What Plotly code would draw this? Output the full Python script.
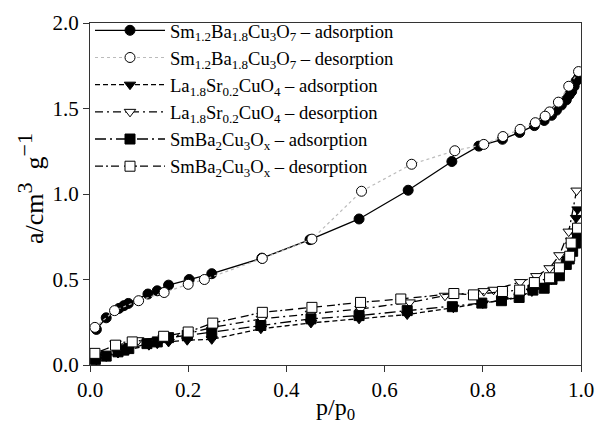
import plotly.graph_objects as go

# Sm1.2Ba1.8Cu3O7
sm12_ads_x = [0.013, 0.033, 0.059, 0.069, 0.078, 0.118, 0.137, 0.16, 0.202, 0.248, 0.35, 0.448, 0.548, 0.648, 0.737, 0.792,
              0.84, 0.875, 0.905, 0.925, 0.94, 0.95, 0.96, 0.97, 0.976, 0.981, 0.986, 0.99, 0.995]
sm12_ads_y = [0.208, 0.276, 0.331, 0.347, 0.36, 0.415, 0.434, 0.467, 0.5, 0.534, 0.625, 0.733, 0.854, 1.022, 1.19, 1.28,
              1.32, 1.36, 1.40, 1.43, 1.46, 1.49, 1.52, 1.55, 1.58, 1.60, 1.63, 1.66, 1.68]
sm12_des_x = [0.995, 0.975, 0.954, 0.936, 0.927, 0.907, 0.876, 0.841, 0.802, 0.743, 0.655, 0.553, 0.452, 0.351,
              0.233, 0.2, 0.151, 0.099, 0.05, 0.01]
sm12_des_y = [1.716, 1.63, 1.537, 1.48, 1.455, 1.417, 1.378, 1.336, 1.29, 1.253, 1.174, 1.016, 0.736, 0.623,
              0.5, 0.472, 0.424, 0.376, 0.318, 0.22]

# La1.8Sr0.2CuO4
la_ads_x = [0.013, 0.033, 0.057, 0.078, 0.12, 0.137, 0.16, 0.198, 0.248, 0.348, 0.45, 0.548, 0.646, 0.74, 0.80,
            0.84, 0.875, 0.90, 0.925, 0.94, 0.956, 0.97, 0.98, 0.985, 0.99, 0.993]
la_ads_y = [0.03, 0.05, 0.07, 0.09, 0.116, 0.125, 0.135, 0.145, 0.15, 0.212, 0.246, 0.27, 0.295, 0.335, 0.36,
            0.38, 0.40, 0.43, 0.46, 0.50, 0.55, 0.62, 0.70, 0.78, 0.86, 0.91]
la_des_x = [0.991, 0.975, 0.956, 0.936, 0.909, 0.876, 0.822, 0.802, 0.723, 0.651, 0.551, 0.45, 0.35,
            0.25, 0.2, 0.15, 0.098, 0.052, 0.01]
la_des_y = [1.02, 0.78, 0.642, 0.566, 0.52, 0.485, 0.44, 0.432, 0.405, 0.366, 0.328, 0.30, 0.27,
            0.22, 0.185, 0.16, 0.145, 0.126, 0.05]

# SmBa2Cu3Ox
smba_ads_x = [0.011, 0.033, 0.057, 0.069, 0.079, 0.116, 0.137, 0.16, 0.198, 0.248, 0.348, 0.45, 0.548, 0.646, 0.738,
              0.798, 0.838, 0.874, 0.902, 0.925, 0.941, 0.956, 0.97, 0.976, 0.983, 0.989, 0.993]
smba_ads_y = [0.033, 0.052, 0.077, 0.087, 0.096, 0.125, 0.135, 0.16, 0.173, 0.193, 0.231, 0.27, 0.289, 0.318, 0.341,
              0.362, 0.376, 0.395, 0.438, 0.449, 0.501, 0.522, 0.588, 0.62, 0.665, 0.713, 0.76]
smba_des_x = [0.993, 0.98, 0.977, 0.956, 0.936, 0.905, 0.875, 0.84, 0.781, 0.741, 0.633, 0.551, 0.452, 0.351,
              0.25, 0.2, 0.15, 0.086, 0.052, 0.01]
smba_des_y = [0.80, 0.713, 0.636, 0.568, 0.51, 0.482, 0.438, 0.43, 0.41, 0.418, 0.386, 0.366, 0.337, 0.308,
              0.245, 0.193, 0.168, 0.135, 0.116, 0.068]

x_ticks = [0, 0.2, 0.4, 0.6, 0.8, 1.0]
x_ticklabels = ["0.0", "0.2", "0.4", "0.6", "0.8", "1.0"]
y_ticks = [0, 0.5, 1.0, 1.5, 2.0]
y_ticklabels = ["0.0", "0.5", "1.0", "1.5", "2.0"]

FONT = "Liberation Serif"

series = [
    ("Sm<sub>1.2</sub>Ba<sub>1.8</sub>Cu<sub>3</sub>O<sub>7</sub> – adsorption", sm12_ads_x, sm12_ads_y,
     "circle", "black", dict(color="black", width=1.3, dash="solid")),
    ("Sm<sub>1.2</sub>Ba<sub>1.8</sub>Cu<sub>3</sub>O<sub>7</sub> – desorption", sm12_des_x, sm12_des_y,
     "circle", "white", dict(color="#bbbbbb", width=1.2, dash="dot")),
    ("La<sub>1.8</sub>Sr<sub>0.2</sub>CuO<sub>4</sub> – adsorption", la_ads_x, la_ads_y,
     "triangle-down", "black", dict(color="black", width=1.3, dash="5px,3px")),
    ("La<sub>1.8</sub>Sr<sub>0.2</sub>CuO<sub>4</sub> – desorption", la_des_x, la_des_y,
     "triangle-down", "white", dict(color="black", width=1.3, dash="8px,4px,2px,4px")),
    ("SmBa<sub>2</sub>Cu<sub>3</sub>O<sub>x</sub> – adsorption", smba_ads_x, smba_ads_y,
     "square", "black", dict(color="black", width=1.3, dash="11px,4px,2px,4px")),
    ("SmBa<sub>2</sub>Cu<sub>3</sub>O<sub>x</sub> – desorption", smba_des_x, smba_des_y,
     "square", "white", dict(color="black", width=1.3, dash="8px,3px,2px,3px,8px,5px")),
]

fig = go.Figure()
for name, xs, ys, sym, fill, line in series:
    fig.add_trace(go.Scatter(
        x=xs, y=ys, name=name, mode="lines+markers",
        line=line,
        marker=dict(symbol=sym, size=10, color=fill, line=dict(color="black", width=1)),
    ))

fig.update_layout(
    width=595, height=424,
    margin=dict(l=90, r=14, t=19, b=59),
    paper_bgcolor="white", plot_bgcolor="white",
    font=dict(family=FONT, size=21, color="black"),
    showlegend=True,
    legend=dict(x=0.0, y=1.033, xanchor="left", yanchor="top", bgcolor="rgba(0,0,0,0)",
                font=dict(family=FONT, size=18.6, color="black"), tracegroupgap=0,
                itemwidth=70),
    annotations=[dict(
        text="a/cm<sup><span style='font-size:22px'>3</span></sup>  g<sup><span style='font-size:22px'>−1</span></sup>",
        xref="paper", yref="paper", x=-0.12, y=0.515, xanchor="center", yanchor="middle",
        textangle=-90, showarrow=False, font=dict(family=FONT, size=26, color="black"))],
)
fig.update_xaxes(range=[0, 1.0], tickvals=x_ticks, ticktext=x_ticklabels,
                 tickfont=dict(family=FONT, size=21), automargin=False, ticklabeloverflow="allow",
                 ticks="outside", ticklen=6, tickcolor="#333", showline=True, linecolor="#333", linewidth=1,
                 mirror=True, showgrid=False, zeroline=False,
                 title=dict(text="p/p<sub>0</sub>", font=dict(family=FONT, size=24), standoff=4))
fig.update_yaxes(range=[0, 2.0], tickvals=y_ticks, ticktext=y_ticklabels,
                 tickfont=dict(family=FONT, size=21), automargin=False, ticklabeloverflow="allow",
                 ticks="outside", ticklen=6, tickcolor="#333", showline=True, linecolor="#333", linewidth=1,
                 mirror=True, showgrid=False, zeroline=False)

fig.write_html("out.html")
